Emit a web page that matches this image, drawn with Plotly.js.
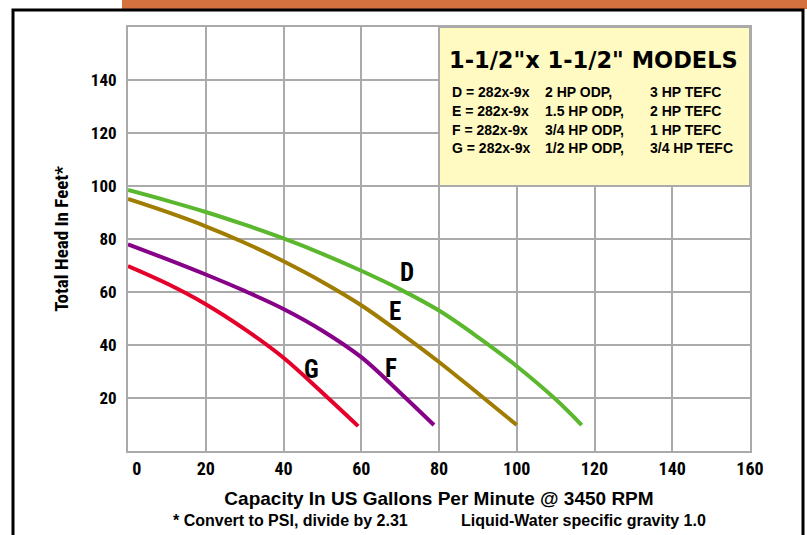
<!DOCTYPE html>
<html><head><meta charset="utf-8">
<script src="https://cdn.plot.ly/plotly-3.0.1.min.js"></script>
<style>html,body{margin:0;padding:0;background:#fff;}#chart{width:807px;height:535px;}</style>
</head><body><div id="chart"></div>
<script>
// Data
const seriesNames = ['D', 'E', 'F', 'G'];
const capD = [0, 10, 20, 30, 40, 50, 60, 70, 80, 90, 100, 110, 116.7];
const headD = [98.5, 94.5, 90.2, 85.4, 80.2, 74.4, 68, 61, 53, 43, 32, 19.5, 9.8];
const capE = [0, 10, 20, 30, 40, 50, 60, 70, 80, 90, 100];
const headE = [95.1, 90.2, 84.8, 78.6, 71.6, 63.8, 55, 44.6, 33.6, 21.8, 9.8];
const capF = [0, 10, 20, 30, 40, 50, 60, 70, 78.7];
const headF = [78, 72.4, 66.6, 60.4, 53.6, 45.4, 35.4, 22, 9.8];
const capG = [0, 10, 20, 30, 40, 50, 59.2];
const headG = [69.8, 63.2, 55.4, 46, 35.2, 22, 9.4];
const labelX = [71.8, 68.7, 67.6, 47.3];
const labelY = [67.2, 52.5, 31.3, 30.9];
const xTicks = [0, 20, 40, 60, 80, 100, 120, 140, 160];
const yTicks = [20, 40, 60, 80, 100, 120, 140];
const boxTitle = '1-1/2"x 1-1/2" MODELS';
const modelCol = ['D = 282x-9x', 'E = 282x-9x', 'F = 282x-9x', 'G = 282x-9x'];
const odpCol = ['2 HP ODP,', '1.5 HP ODP,', '3/4 HP ODP,', '1/2 HP ODP,'];
const tefcCol = ['3 HP TEFC', '2 HP TEFC', '1 HP TEFC', '3/4 HP TEFC'];
const xTitle = 'Capacity In US Gallons Per Minute @ 3450 RPM';
const yTitle = 'Total Head In Feet*';
const note1 = '* Convert to PSI, divide by 2.31';
const note2 = 'Liquid-Water specific gravity 1.0';

const NARROW = '"Roboto Condensed", "Liberation Sans Narrow", "Arial Narrow", sans-serif';
const ARIAL = '"Liberation Sans", Arial, Helvetica, sans-serif';
const WIDE = '"DejaVu Sans", Verdana, sans-serif';
const colors = ['#5bb82e', '#a07d00', '#860088', '#e4002b'];
const caps = [capD, capE, capF, capG];
const heads = [headD, headE, headF, headG];

const traces = caps.map((c, i) => ({
  x: c, y: heads[i], type: 'scatter', mode: 'lines', name: seriesNames[i],
  line: {color: colors[i], width: 4, shape: 'spline', smoothing: 1},
  hoverinfo: 'skip', showlegend: false
}));

// plot area: left 128, right 750, top 27, bottom 451
const L = 128, R = 750, T = 27, B = 451, W = 807, H = 535;
const px = v => (v - L) / (R - L);
const py = v => (B - v) / (B - T);

const annotations = [];
seriesNames.forEach((n, i) => annotations.push({
  x: labelX[i], y: labelY[i], xref: 'x', yref: 'y', text: n, showarrow: false,
  font: {family: NARROW, size: 25, color: '#000', weight: 'bold'}
}));
annotations.push({x: px(447), y: py(60), xref: 'paper', yref: 'paper', xanchor: 'left', yanchor: 'middle',
  text: boxTitle, showarrow: false, font: {family: WIDE, size: 22.5, color: '#000', weight: 'bold'}});
const rowY = [91.7, 110.5, 129.5, 148.3];
const rowFont = {family: ARIAL, size: 14, color: '#000', weight: 'bold'};
for (let i = 0; i < 4; i++) {
  annotations.push({x: px(450), y: py(rowY[i]), xref: 'paper', yref: 'paper', xanchor: 'left', yanchor: 'middle',
    text: modelCol[i], showarrow: false, font: rowFont});
  annotations.push({x: px(543), y: py(rowY[i]), xref: 'paper', yref: 'paper', xanchor: 'left', yanchor: 'middle',
    text: odpCol[i], showarrow: false, font: rowFont});
  annotations.push({x: px(648), y: py(rowY[i]), xref: 'paper', yref: 'paper', xanchor: 'left', yanchor: 'middle',
    text: tefcCol[i], showarrow: false, font: rowFont});
}
const noteFont = {family: ARIAL, size: 16, color: '#000', weight: 'bold'};
annotations.push({x: px(171), y: py(520), xref: 'paper', yref: 'paper', xanchor: 'left', yanchor: 'middle',
  text: note1, showarrow: false, font: noteFont});
annotations.push({x: px(459), y: py(520), xref: 'paper', yref: 'paper', xanchor: 'left', yanchor: 'middle',
  text: note2, showarrow: false, font: noteFont});

const shapes = [
  {type: 'rect', xref: 'paper', yref: 'paper', x0: px(122), x1: px(807), y0: py(0), y1: py(9),
   fillcolor: '#d5703f', line: {width: 0}, layer: 'below'},
  {type: 'rect', xref: 'paper', yref: 'paper', x0: px(13), x1: px(803), y0: py(10), y1: py(560),
   fillcolor: 'rgba(0,0,0,0)', line: {color: '#000', width: 3}, layer: 'above'},
  {type: 'rect', xref: 'x', yref: 'y', x0: 80, x1: 160, y0: 100, y1: 160,
   fillcolor: '#fffac2', line: {color: '#aaaaaa', width: 2}, layer: 'above'}
];

const layout = {
  width: W, height: H,
  margin: {l: L, r: W - R, t: T, b: H - B, pad: 0},
  paper_bgcolor: '#fff', plot_bgcolor: '#fff',
  showlegend: false,
  xaxis: {range: [0, 160], tickvals: xTicks,
    ticktext: xTicks.map(v => v === 0 ? '\u2007\u20070' : String(v)), showgrid: true,
    gridcolor: '#aaaaaa', gridwidth: 2, zeroline: false, showline: true, linecolor: '#aaaaaa', linewidth: 2, mirror: true,
    ticks: '', ticklen: 0, tickfont: {family: NARROW, size: 18, color: '#000', weight: 'bold'},
    title: {text: xTitle, standoff: 14, font: {family: ARIAL, size: 19, color: '#000', weight: 'bold'}},
    fixedrange: true},
  yaxis: {range: [0, 160], tickvals: yTicks, ticktext: yTicks.map(String), showgrid: true,
    gridcolor: '#aaaaaa', gridwidth: 2, zeroline: false, showline: true, linecolor: '#aaaaaa', linewidth: 2, mirror: true,
    ticks: 'outside', ticklen: 6, tickcolor: 'rgba(0,0,0,0)', tickfont: {family: NARROW, size: 17, color: '#000', weight: 'bold'},
    title: {text: yTitle, standoff: 17, font: {family: NARROW, size: 19, color: '#000', weight: 'bold'}},
    fixedrange: true},
  shapes: shapes,
  annotations: annotations
};

Plotly.newPlot('chart', traces, layout, {displayModeBar: false, staticPlot: true});
</script></body></html>
